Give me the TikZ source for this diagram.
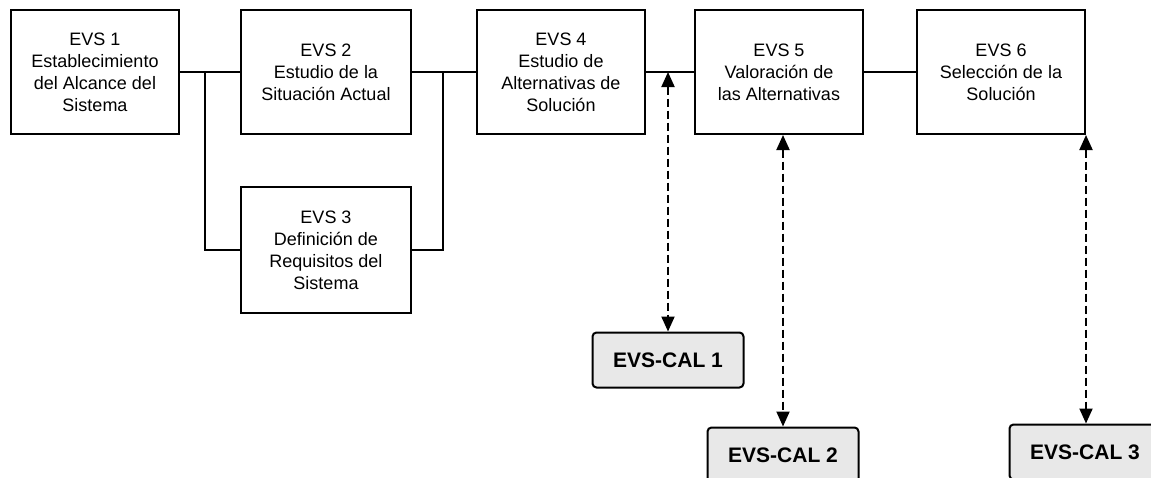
\documentclass[tikz,border=0pt]{standalone}
\usepackage{fontspec}
\setmainfont{Liberation Sans}
\usetikzlibrary{arrows.meta}

\tikzset{
  evsbox/.style={draw,line width=2pt,minimum width=168pt,minimum height=124pt,align=center,
    font=\fontsize{18}{22}\selectfont,inner sep=0pt},
  calbox/.style={draw,line width=2pt,fill=gray!18,rounded corners=4pt,minimum width=151pt,
    minimum height=55pt,font=\fontsize{21}{25}\selectfont\bfseries,inner sep=0pt},
  enlace/.style={line width=2pt},
  flecha/.style={line width=2pt,dash pattern=on 8pt off 4pt,
    {Triangle[length=15pt,width=13pt]}-{Triangle[length=15pt,width=13pt]}}
}

\begin{document}
\begin{tikzpicture}[x=1pt,y=-1pt]
    \clip (0,0) rectangle (1151,477);
    \useasboundingbox (0,0) rectangle (1151,477);

    % actividades EVS
    \node [evsbox] (evs1) at (95,72) {EVS 1\\Establecimiento\\del Alcance del\\Sistema};
    \node [evsbox,minimum width=170pt] (evs2) at (326,72) {EVS 2\\Estudio de la\\Situación Actual};
    \node [evsbox,minimum width=170pt,minimum height=126pt] (evs3) at (326,250) {EVS 3\\Definición de\\Requisitos del\\Sistema};
    \node [evsbox] (evs4) at (561,72) {EVS 4\\Estudio de\\Alternativas de\\Solución};
    \node [evsbox] (evs5) at (779,72) {EVS 5\\Valoración de\\las Alternativas};
    \node [evsbox] (evs6) at (1001,72) {EVS 6\\Selección de la\\Solución};

    % actividades de calidad
    \node [calbox] (cal1) at (668,360) {EVS-CAL 1};
    \node [calbox] (cal2) at (783,455) {EVS-CAL 2};
    \node [calbox] (cal3) at (1085,452) {EVS-CAL 3};

    % puntos de union
    \coordinate (j1) at (205,72);
    \coordinate (j2) at (443,72);
    \coordinate (p1) at (668,72);

    % enlaces entre actividades
    \draw [enlace] (evs1.east) -- (evs2.west);
    \draw [enlace] (j1) |- (evs3.west);
    \draw [enlace] (evs2.east) -- (evs4.west);
    \draw [enlace] (j2) |- (evs3.east);
    \draw [enlace] (evs4.east) -- (evs5.west);
    \draw [enlace] (evs5.east) -- (evs6.west);

    % flechas de calidad
    \draw [flecha] (p1) -- (p1 |- cal1.north);
    \draw [flecha] (cal2.north |- evs5.south) -- (cal2.north);
    \draw [flecha] (evs6.south east) -- (evs6.south east |- cal3.north);

\end{tikzpicture}
\end{document}
